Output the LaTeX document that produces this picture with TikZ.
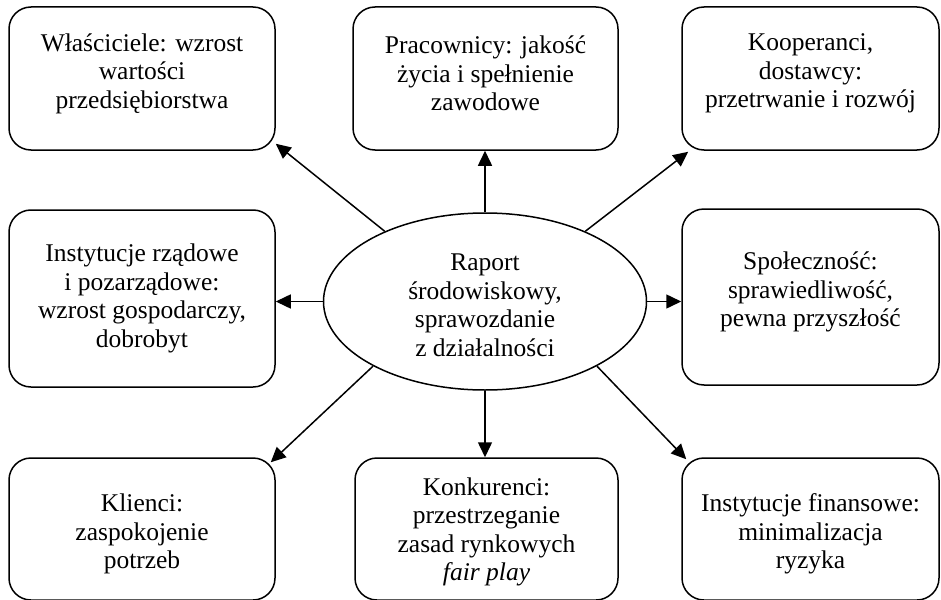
\documentclass[tikz,border=0pt]{standalone}
\usepackage{fontspec}
\setmainfont{Liberation Serif}
\usetikzlibrary{shapes.geometric,arrows.meta}
\begin{document}
\begin{tikzpicture}[x=1pt,y=-1pt,
  box/.style={draw, line width=1.5pt, rounded corners=22pt, inner sep=0pt},
  txt/.style={align=center, inner sep=0pt, font=\fontsize{25.5}{28.5}\selectfont},
  arr/.style={line width=1.5pt, -{Triangle[length=15pt,width=14pt]}}]
\useasboundingbox (0,0) rectangle (941,599);
% boxes
\node[box, minimum width=266pt, minimum height=143pt] (tl) at (142,78.5) {};
\node[box, minimum width=265pt, minimum height=143pt] (tm) at (485.5,78.5) {};
\node[box, minimum width=257pt, minimum height=143pt] (tr) at (810.5,78.5) {};
\node[box, minimum width=266pt, minimum height=177pt] (ml) at (142,298.5) {};
\node[box, minimum width=257pt, minimum height=176pt] (mr) at (810.5,297) {};
\node[box, minimum width=266pt, minimum height=142pt] (bl) at (142,529) {};
\node[box, minimum width=263pt, minimum height=142pt] (bm) at (486.5,529) {};
\node[box, minimum width=257pt, minimum height=142pt] (br) at (810.5,529) {};
% center ellipse
\node[draw, ellipse, line width=1.5pt, minimum width=323pt, minimum height=177pt, inner sep=0pt] (c) at (485,301.5) {};
% texts
\node[txt, yshift=5pt] (tlt) at (tl) {Właściciele: wzrost\\wartości\\przedsiębiorstwa};
\node[txt, yshift=5pt] (tmt) at (tm) {Pracownicy: jakość\\życia i spełnienie\\zawodowe};
\node[txt, yshift=5pt] (trt) at (tr) {Kooperanci,\\dostawcy:\\przetrwanie i rozwój};
\node[txt, yshift=0pt] (mlt) at (ml) {Instytucje rządowe\\i pozarządowe:\\wzrost gospodarczy,\\dobrobyt};
\node[txt, yshift=5pt] (mrt) at (mr) {Społeczność:\\sprawiedliwość,\\pewna przyszłość};
\node[txt, yshift=-5pt] (blt) at (bl) {Klienci:\\zaspokojenie\\potrzeb};
\node[txt, yshift=-3pt] (bmt) at (bm) {Konkurenci:\\przestrzeganie\\zasad rynkowych\\\textit{fair play}};
\node[txt, yshift=-5pt] (brt) at (br) {Instytucje finansowe:\\minimalizacja\\ryzyka};
\node[txt, yshift=-4pt] (ct) at (c) {Raport\\środowiskowy,\\sprawozdanie\\z działalności};
% arrows
\draw[arr] (c.145) -- ([yshift=7pt]tl.south east);
\draw[arr] (c.north) -- (c.north |- tm.south);
\draw[arr] (c.35) -- ([xshift=7pt,yshift=-1pt]tr.south west);
\draw[arr] (c.west) -- (c.west -| ml.east);
\draw[arr] (c.east) -- (c.east -| mr.west);
\draw[arr] (c.210) -- ([xshift=-5pt,yshift=-5pt]bl.north east);
\draw[arr] (c.south) -- (c.south |- bm.north);
\draw[arr] (c.330) -- ([xshift=5pt,yshift=-2pt]br.north west);
\end{tikzpicture}
\end{document}
